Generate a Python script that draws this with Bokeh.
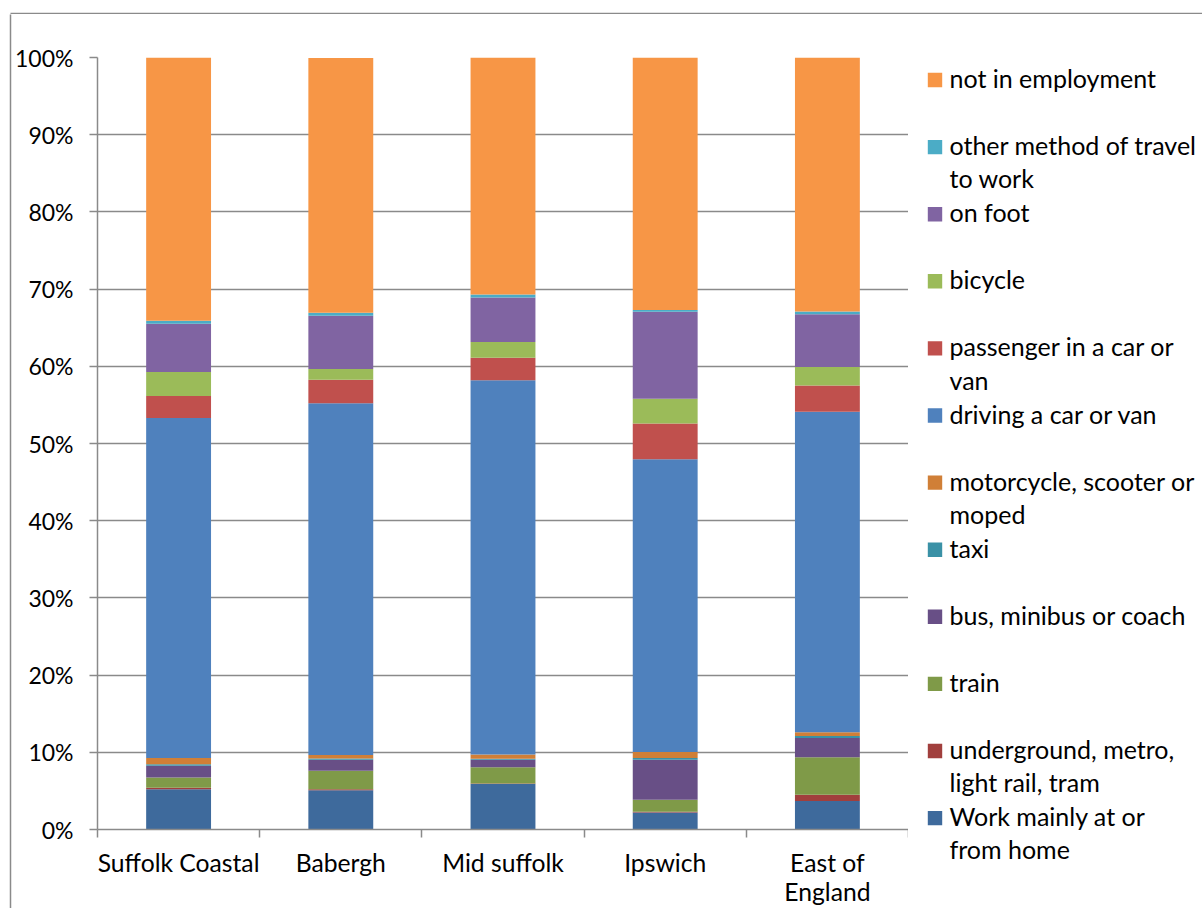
from bokeh.plotting import figure
from bokeh.layouts import row, column
from bokeh.models import ColumnDataSource, Range1d, FixedTicker, PrintfTickFormatter
from bokeh.core.properties import value
from bokeh.embed import file_html
from bokeh.resources import INLINE

# ---------------- data ----------------
areas = ["Suffolk Coastal", "Babergh", "Mid suffolk", "Ipswich", "East of\nEngland"]

series = ["home", "underground", "train", "bus", "taxi", "motorcycle",
          "driving", "passenger", "bicycle", "on_foot", "other", "not_employed"]
series_labels = [
    "Work mainly at or\nfrom home",
    "underground, metro,\nlight rail, tram",
    "train",
    "bus, minibus or coach",
    "taxi",
    "motorcycle, scooter or\nmoped",
    "driving a car or van",
    "passenger in a car or\nvan",
    "bicycle",
    "on foot",
    "other method of travel\nto work",
    "not in employment",
]
home         = [5.2, 5.1, 5.9, 2.2, 3.7]
underground  = [0.2, 0.1, 0.05, 0.1, 0.8]
train        = [1.35, 2.4, 2.1, 1.55, 4.85]
bus          = [1.5, 1.45, 1.0, 5.2, 2.5]
taxi         = [0.2, 0.15, 0.1, 0.2, 0.25]
motorcycle   = [0.8, 0.45, 0.55, 0.8, 0.5]
driving      = [44.05, 45.55, 48.5, 37.9, 41.5]
passenger    = [2.85, 3.05, 2.9, 4.65, 3.4]
bicycle      = [3.1, 1.4, 2.05, 3.2, 2.4]
on_foot      = [6.25, 6.9, 5.75, 11.25, 6.85]
other        = [0.4, 0.4, 0.4, 0.25, 0.35]
not_employed = [34.1, 33.0, 30.7, 32.7, 32.9]

colors = ["#3E6A9C", "#A13F3D", "#7F9A48", "#684F86", "#3A91A6", "#D07F37",
          "#4F81BD", "#C0504D", "#9BBB59", "#8064A2", "#4BACC6", "#F79646"]

y_ticks = [0, 10, 20, 30, 40, 50, 60, 70, 80, 90, 100]

# ---------------- styling constants ----------------
FONT = "Lato"
FS_Y = "23px"
FS_X = "24.7px"
FS_LEG = "25px"
GRID = "#8a8a8a"
W, H = 1202, 908
TOP_H = 14          # strip holding the top edge of the chart border
LEFT_W = 12         # strip holding the left edge of the chart border
MAIN_W = 896
LEG_W = W - LEFT_W - MAIN_W
BODY_H = H - TOP_H


def blank(width, height, x0, x1, y0, y1):
    f = figure(width=width, height=height, x_range=Range1d(x0, x1), y_range=Range1d(y0, y1),
               x_axis_type=None, y_axis_type=None, min_border=0,
               output_backend="svg", toolbar_location=None)
    f.outline_line_color = None
    f.background_fill_color = "white"
    f.border_fill_color = "white"
    return f


# ---------------- border strips ----------------
top = blank(W, TOP_H, 0, W, TOP_H, 0)
top.segment(x0=[10], y0=[13], x1=[W], y1=[13], line_color=GRID, line_width=1.5)

left = blank(LEFT_W, BODY_H, 0, LEFT_W, H, TOP_H)
left.segment(x0=[10], y0=[TOP_H - 1], x1=[10], y1=[H], line_color=GRID, line_width=1.5)

# ---------------- main chart ----------------
centers = [i + 0.5 for i in range(len(areas))]
bounds = [i for i in range(len(areas) + 1)]

data = {"x": centers}
for key, vals in zip(series, [home, underground, train, bus, taxi, motorcycle, driving,
                              passenger, bicycle, on_foot, other, not_employed]):
    data[key] = vals
source = ColumnDataSource(data)

p = figure(width=MAIN_W, height=BODY_H,
           min_border_left=85, min_border_right=0, min_border_top=43, min_border_bottom=78,
           x_range=Range1d(0, len(areas)), y_range=Range1d(0, 100),
           output_backend="svg", toolbar_location=None)
p.outline_line_color = None
p.background_fill_color = "white"
p.border_fill_color = "white"

p.vbar_stack(series, x="x", width=0.4, source=source,
             fill_color=colors, line_color=None)

# y axis
p.yaxis.ticker = FixedTicker(ticks=y_ticks)
p.yaxis.formatter = PrintfTickFormatter(format="%d%%")
p.yaxis.axis_line_color = GRID
p.yaxis.axis_line_width = 1.5
p.yaxis.major_tick_line_color = GRID
p.yaxis.major_tick_line_width = 1.5
p.yaxis.major_tick_in = 0
p.yaxis.major_tick_out = 8
p.yaxis.minor_tick_line_color = None
p.yaxis.major_label_standoff = 16
p.yaxis.major_label_text_font = FONT
p.yaxis.major_label_text_font_size = FS_Y
p.yaxis.major_label_text_color = "black"

# x axis: labels at bar centres, tick marks at category boundaries
p.xaxis.ticker = FixedTicker(ticks=centers, minor_ticks=bounds)
p.xaxis.major_label_overrides = {c: a for c, a in zip(centers, areas)}
p.xaxis.axis_line_color = GRID
p.xaxis.axis_line_width = 1.5
p.xaxis.major_tick_line_color = None
p.xaxis.major_tick_in = 0
p.xaxis.major_tick_out = 0
p.xaxis.minor_tick_line_color = GRID
p.xaxis.minor_tick_line_width = 1.5
p.xaxis.minor_tick_in = 0
p.xaxis.minor_tick_out = 8
p.xaxis.major_label_standoff = 10
p.xaxis.major_label_text_font = FONT
p.xaxis.major_label_text_font_size = FS_X
p.xaxis.major_label_text_line_height = 1.0
p.xaxis.major_label_text_color = "black"

p.xgrid.grid_line_color = None
p.ygrid.grid_line_color = GRID
p.ygrid.grid_line_width = 1.5

# ---------------- legend panel ----------------
x0_leg = LEFT_W + MAIN_W
leg = blank(LEG_W, BODY_H, x0_leg, W, H, TOP_H)

STEP = 67.1
LINE = 33.2
order = list(reversed(range(len(series))))
sq_y = [79.5 + STEP * i for i in range(len(order))]
txt_y = []
for i, k in enumerate(order):
    n = series_labels[k].count("\n") + 1
    txt_y.append(sq_y[i] - 2 + (n - 1) * LINE / 2)

leg.rect(x=[934.5] * len(order), y=sq_y, width=14.4, height=14.4,
         fill_color=[colors[k] for k in order], line_color=None)
leg.text(x=[949] * len(order), y=txt_y, text=[series_labels[k] for k in order],
         text_font=value(FONT), text_font_size=value(FS_LEG), text_color="black",
         text_align="left", text_baseline="middle", text_line_height=1.107)

# each figure wrapped on its own so that their frames are laid out independently
layout = column(top, row(column(left), column(p), column(leg)))
open("out.html", "w").write(file_html(layout, INLINE))
